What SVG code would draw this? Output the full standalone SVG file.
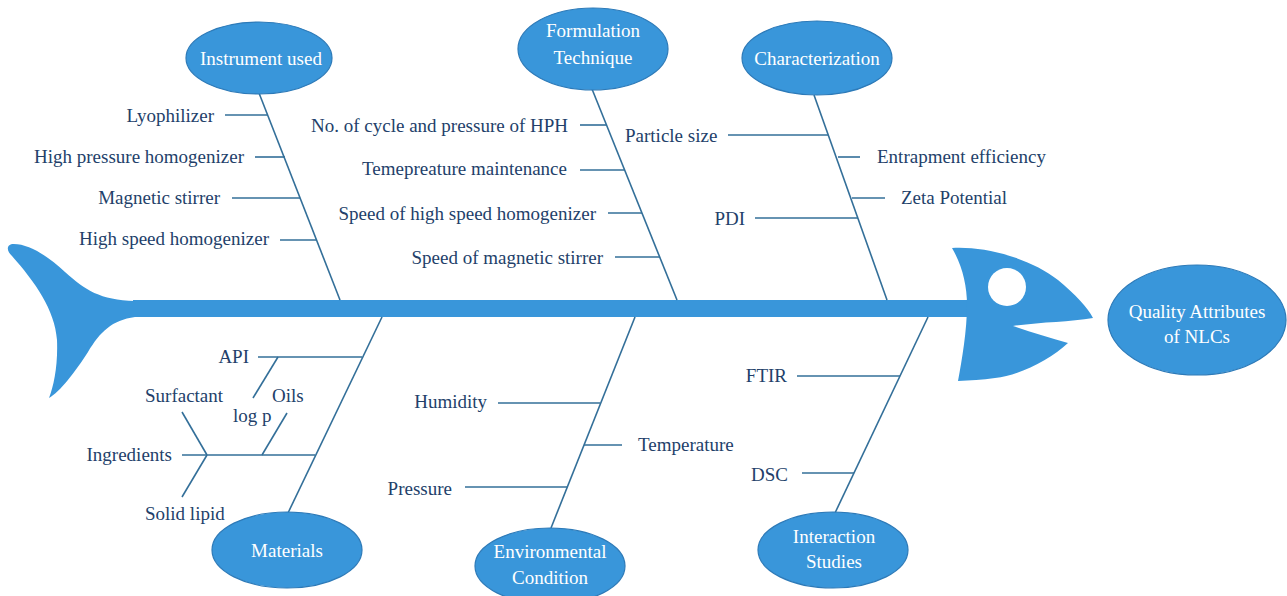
<svg xmlns="http://www.w3.org/2000/svg" width="1287" height="596" viewBox="0 0 1287 596">
<style>
.fish{fill:#3996da}
.cat ellipse{fill:#3996da;stroke:#2d7ab8;stroke-width:1.2}
.cat text{fill:#ffffff;font-family:"Liberation Serif","Times New Roman",serif;font-size:19px;text-anchor:middle}
.lbl{fill:#233f6a;font-family:"Liberation Serif","Times New Roman",serif;font-size:19px}
.e{text-anchor:end}
.s{text-anchor:start}
#connectors line,#connectors path{stroke:#336f99;stroke-width:1.6;fill:none}
</style>
<rect width="1287" height="596" fill="#ffffff"/>
<g id="fish-body">
<path class="fish" d="M135,301 C100,300 85,290 65,272 C48,256 28,243 12,244 C5,246 8,252 12,256 C35,282 55,310 57,340 C58,365 54,385 49,398 C60,392 75,372 88,352 C100,332 112,320 135,317 Z"/>
<rect class="fish" x="133" y="300" width="836" height="17"/>
<path class="fish" d="M952,248 C985,246 1030,258 1058,280 C1075,294 1088,308 1093,318 C1070,322 1040,322 1013,326 C1030,332 1050,338 1068,343 C1050,360 1020,375 995,378 C982,380 970,380 958,381 C962,360 967,330 967,305 C967,285 962,265 952,248 Z"/>
<circle cx="1007" cy="287" r="19" fill="#ffffff"/>
</g>
<g id="connectors">
<line x1="259" y1="93" x2="340" y2="300"/>
<line x1="225" y1="115" x2="268" y2="115"/>
<line x1="255" y1="157" x2="285" y2="157"/>
<line x1="232" y1="198" x2="300" y2="198"/>
<line x1="280" y1="240" x2="317" y2="240"/>
<line x1="592" y1="89" x2="677" y2="300"/>
<line x1="580" y1="125" x2="607" y2="125"/>
<line x1="580" y1="170" x2="625" y2="170"/>
<line x1="608" y1="213" x2="642" y2="213"/>
<line x1="615" y1="257" x2="660" y2="257"/>
<line x1="814" y1="95" x2="887" y2="300"/>
<line x1="728" y1="135" x2="828" y2="135"/>
<line x1="838" y1="157" x2="860" y2="157"/>
<line x1="852" y1="198" x2="885" y2="198"/>
<line x1="755" y1="218" x2="858" y2="218"/>
<line x1="382" y1="317" x2="288" y2="513"/>
<line x1="258" y1="357" x2="362" y2="357"/>
<line x1="278" y1="357" x2="253" y2="398"/>
<line x1="182" y1="455" x2="315" y2="455"/>
<line x1="287" y1="413" x2="262" y2="455"/>
<line x1="182" y1="412" x2="207" y2="455"/>
<line x1="207" y1="455" x2="182" y2="497"/>
<line x1="635" y1="317" x2="551" y2="528"/>
<line x1="498" y1="403" x2="600" y2="403"/>
<line x1="584" y1="445" x2="622" y2="445"/>
<line x1="465" y1="487" x2="567" y2="487"/>
<line x1="928" y1="317" x2="835" y2="513"/>
<line x1="797" y1="376" x2="900" y2="376"/>
<line x1="802" y1="473" x2="854" y2="473"/>
</g>
<g id="node-instrument" class="cat"><ellipse cx="259" cy="58" rx="73" ry="36"/><text x="261" y="65">Instrument used</text></g>
<g id="node-formulation" class="cat"><ellipse cx="593" cy="49" rx="75" ry="41"/><text x="593" y="37">Formulation</text><text x="593" y="64">Technique</text></g>
<g id="node-characterization" class="cat"><ellipse cx="817" cy="58" rx="75" ry="37"/><text x="817" y="65">Characterization</text></g>
<g id="node-materials" class="cat"><ellipse cx="287" cy="550" rx="75" ry="38"/><text x="287" y="557">Materials</text></g>
<g id="node-environmental" class="cat"><ellipse cx="550" cy="566" rx="75" ry="38"/><text x="550" y="558">Environmental</text><text x="550" y="584">Condition</text></g>
<g id="node-interaction" class="cat"><ellipse cx="833" cy="550" rx="75" ry="38"/><text x="834" y="543">Interaction</text><text x="834" y="568">Studies</text></g>
<g id="node-quality" class="cat"><ellipse cx="1197" cy="320" rx="89" ry="55"/><text x="1197" y="318">Quality Attributes</text><text x="1197" y="343">of NLCs</text></g>
<g id="labels">
<text class="lbl e" x="214" y="122">Lyophilizer</text>
<text class="lbl e" x="244" y="163">High pressure homogenizer</text>
<text class="lbl e" x="220" y="204">Magnetic stirrer</text>
<text class="lbl e" x="269" y="245">High speed homogenizer</text>
<text class="lbl e" x="568" y="132">No. of cycle and pressure of HPH</text>
<text class="lbl e" x="567" y="175">Temepreature maintenance</text>
<text class="lbl e" x="596" y="220">Speed of high speed homogenizer</text>
<text class="lbl e" x="603" y="264">Speed of magnetic stirrer</text>
<text class="lbl s" x="625" y="142">Particle size</text>
<text class="lbl s" x="877" y="163">Entrapment efficiency</text>
<text class="lbl s" x="901" y="204">Zeta Potential</text>
<text class="lbl e" x="745" y="225">PDI</text>
<text class="lbl e" x="249" y="363">API</text>
<text class="lbl s" x="145" y="402">Surfactant</text>
<text class="lbl s" x="272" y="402">Oils</text>
<text class="lbl s" x="233" y="422">log p</text>
<text class="lbl e" x="172" y="461">Ingredients</text>
<text class="lbl s" x="145" y="520">Solid lipid</text>
<text class="lbl e" x="487" y="408">Humidity</text>
<text class="lbl s" x="638" y="451">Temperature</text>
<text class="lbl e" x="452" y="495">Pressure</text>
<text class="lbl e" x="787" y="382">FTIR</text>
<text class="lbl e" x="788" y="481">DSC</text>
</g>
</svg>
